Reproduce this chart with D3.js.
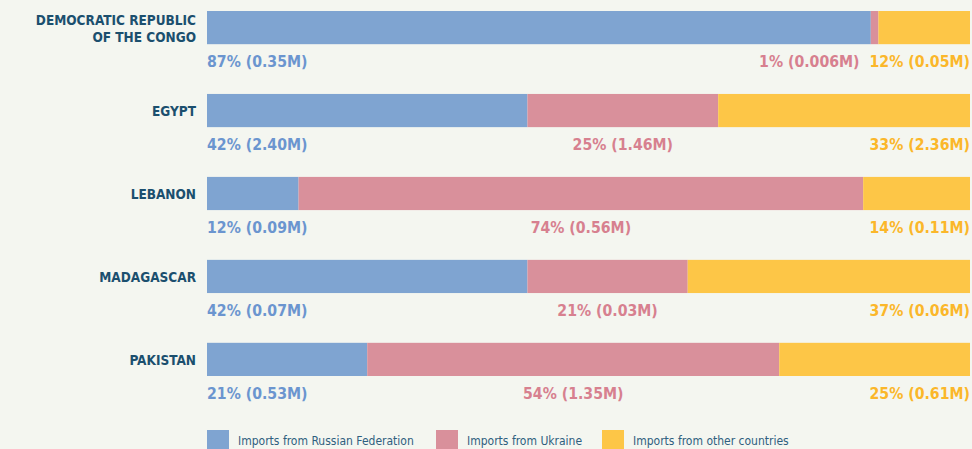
<!DOCTYPE html>
<html>
<head>
<meta charset="utf-8">
<script src="https://cdn.jsdelivr.net/npm/d3@7"></script>
<style>
  html, body { margin: 0; padding: 0; background: #f4f6f0; }
  svg { display: block; }
  .country { font-family: "DejaVu Sans Condensed", "DejaVu Sans", sans-serif; font-stretch: condensed; font-weight: bold; font-size: 13.5px; fill: #1b4f6e; }
  .value { font-family: "DejaVu Sans Condensed", "DejaVu Sans", sans-serif; font-stretch: condensed; font-weight: bold; font-size: 15.7px; }
  .legend-text { font-family: "DejaVu Sans Condensed", "DejaVu Sans", sans-serif; font-stretch: condensed; font-size: 12px; fill: #2f5f7f; }
</style>
</head>
<body>
<svg id="chart"></svg>
<script>
// Chart data
const countries = ['DEMOCRATIC REPUBLIC OF THE CONGO', 'EGYPT', 'LEBANON', 'MADAGASCAR', 'PAKISTAN'];
const countryLines = [['DEMOCRATIC REPUBLIC', 'OF THE CONGO'], ['EGYPT'], ['LEBANON'], ['MADAGASCAR'], ['PAKISTAN']];
const seriesKeys = ['russia', 'ukraine', 'other'];
const seriesNames = ['Imports from Russian Federation', 'Imports from Ukraine', 'Imports from other countries'];
const russiaShare = [87, 42, 12, 42, 21];
const ukraineShare = [1, 25, 74, 21, 54];
const otherShare = [12, 33, 14, 37, 25];
const russiaTonnes = ['0.35', '2.40', '0.09', '0.07', '0.53'];
const ukraineTonnes = ['0.006', '1.46', '0.56', '0.03', '1.35'];
const otherTonnes = ['0.05', '2.36', '0.11', '0.06', '0.61'];

const barColors = ['#7fa4d1', '#d9909b', '#fdc647'];
const labelColors = ['#6b95cf', '#d7808f', '#fbb72a'];

const width = 972, height = 449;
const svg = d3.select('#chart').attr('width', width).attr('height', height);

const table = countries.map((c, i) => ({
  country: c,
  russia: russiaShare[i], ukraine: ukraineShare[i], other: otherShare[i],
  russiaM: russiaTonnes[i], ukraineM: ukraineTonnes[i], otherM: otherTonnes[i]
}));

const xScale = d3.scaleLinear().domain([0, 100]).range([207, 970]);
const yScale = d3.scaleBand()
    .domain(countries)
    .range([11, 376])
    .paddingInner(0.6)
    .paddingOuter(0);
const color = d3.scaleOrdinal().domain(seriesKeys).range(barColors);
const labelColor = d3.scaleOrdinal().domain(seriesKeys).range(labelColors);

const series = d3.stack().keys(seriesKeys)(table);

// bars
svg.append('g')
  .selectAll('g')
  .data(series)
  .join('g')
    .attr('fill', d => color(d.key))
  .selectAll('rect')
  .data(d => d)
  .join('rect')
    .attr('x', d => xScale(d[0]))
    .attr('y', d => yScale(d.data.country))
    .attr('width', d => xScale(d[1]) - xScale(d[0]))
    .attr('height', yScale.bandwidth());

// country labels
const countryG = svg.append('g');
countries.forEach((c, i) => {
  const lines = countryLines[i];
  const mid = yScale(c) + yScale.bandwidth() / 2;
  const lh = 17;
  const text = countryG.append('text')
      .attr('class', 'country')
      .attr('text-anchor', 'end');
  lines.forEach((line, j) => {
    text.append('tspan')
        .attr('x', 196)
        .attr('y', mid + 5.5 + (j - (lines.length - 1) / 2) * lh)
        .text(line);
  });
});

// value labels under bars
const labelG = svg.append('g');
table.forEach((d, i) => {
  const y = yScale(d.country) + yScale.bandwidth() + 23;
  const r = labelG.append('text')
      .attr('class', 'value')
      .attr('x', xScale(0))
      .attr('y', y)
      .attr('fill', labelColor('russia'))
      .text(`${d.russia}% (${d.russiaM}M)`);
  const o = labelG.append('text')
      .attr('class', 'value')
      .attr('x', xScale(100))
      .attr('y', y)
      .attr('text-anchor', 'end')
      .attr('fill', labelColor('other'))
      .text(`${d.other}% (${d.otherM}M)`);
  const u = labelG.append('text')
      .attr('class', 'value')
      .attr('y', y)
      .attr('text-anchor', 'middle')
      .attr('fill', labelColor('ukraine'))
      .text(`${d.ukraine}% (${d.ukraineM}M)`);
  // centre on the Ukraine segment, but keep clear of the right-hand label
  const uw = u.node().getComputedTextLength();
  const ow = o.node().getComputedTextLength();
  let cx = xScale(d.russia + d.ukraine / 2);
  const maxRight = xScale(100) - ow - 10;
  if (cx + uw / 2 > maxRight) cx = maxRight - uw / 2;
  u.attr('x', cx);
});

// legend
const legendX = [207, 436, 602];
const legend = svg.append('g')
  .selectAll('g')
  .data(seriesKeys)
  .join('g')
    .attr('transform', (d, i) => `translate(${legendX[i]},430)`);
legend.append('rect')
    .attr('width', 22)
    .attr('height', 20)
    .attr('fill', d => color(d));
legend.append('text')
    .attr('class', 'legend-text')
    .attr('x', 31)
    .attr('y', 15)
    .text((d, i) => seriesNames[i]);
</script>
</body>
</html>
